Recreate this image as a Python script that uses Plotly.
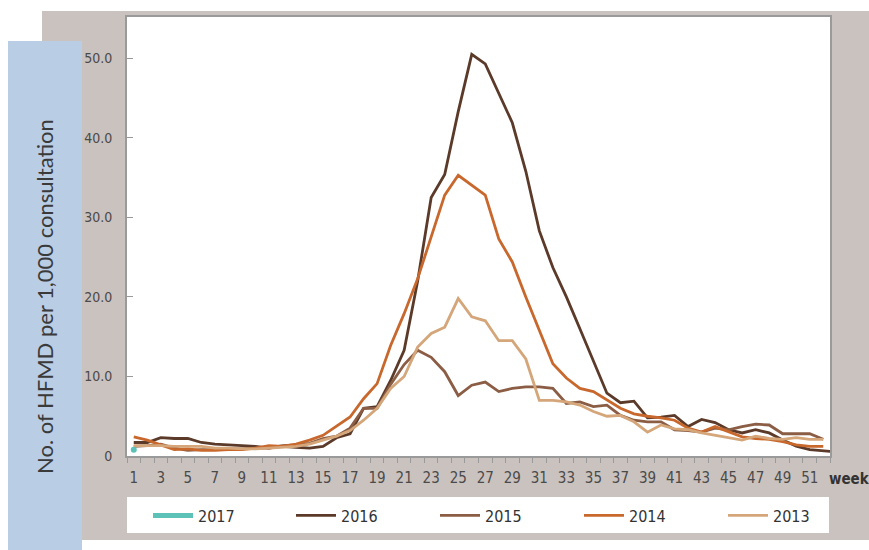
import plotly.graph_objects as go

# ---------------- data ----------------
weeks_2017 = [1]
weeks_2016 = list(range(1, 54))
weeks = list(range(1, 53))

hfmd_2017 = [0.8]
hfmd_2016 = [1.7, 1.7, 2.3, 2.2, 2.2, 1.7, 1.5, 1.4, 1.3, 1.2,
             1.0, 1.2, 1.1, 1.0, 1.2, 2.3, 2.8, 6.0, 6.2, 9.5,
             13.3, 22.0, 32.5, 35.4, 43.3, 50.5, 49.3, 45.5, 41.9, 35.8,
             28.3, 23.7, 20.0, 16.0, 12.0, 7.9, 6.7, 6.9, 4.8, 4.9,
             5.1, 3.7, 4.6, 4.2, 3.3, 2.9, 3.3, 2.9, 2.0, 1.25,
             0.8, 0.6, 0.5]
hfmd_2015 = [1.2, 1.3, 1.5, 1.0, 0.7, 0.8, 0.8, 0.9, 0.9, 1.0,
             1.0, 1.3, 1.4, 1.6, 2.2, 2.5, 3.5, 6.0, 6.0, 9.0,
             11.5, 13.3, 12.4, 10.6, 7.6, 8.9, 9.3, 8.1, 8.5, 8.7,
             8.7, 8.5, 6.6, 6.8, 6.2, 6.4, 5.1, 4.5, 4.3, 4.3,
             3.3, 3.2, 3.0, 3.5, 3.3, 3.7, 4.0, 3.9, 2.8, 2.8,
             2.8, 2.1]
hfmd_2014 = [2.4, 2.0, 1.4, 0.8, 0.9, 0.7, 0.7, 0.8, 0.8, 1.0,
             1.3, 1.2, 1.5, 2.0, 2.6, 3.8, 4.9, 7.2, 9.1, 13.9,
             17.9, 22.3, 27.5, 32.8, 35.3, 34.0, 32.8, 27.3, 24.4, 20.0,
             15.7, 11.6, 9.8, 8.5, 8.1, 7.0, 6.0, 5.3, 5.0, 4.8,
             4.5, 3.5, 3.0, 3.7, 3.0, 2.4, 2.2, 2.1, 1.8, 1.4,
             1.2, 1.2]
hfmd_2013 = [1.3, 1.3, 1.3, 1.2, 1.2, 1.2, 1.0, 1.0, 0.9, 0.9,
             1.0, 1.1, 1.2, 1.5, 2.0, 2.5, 3.2, 4.5, 6.0, 8.5,
             10.0, 13.7, 15.4, 16.2, 19.8, 17.5, 17.0, 14.5, 14.5, 12.2,
             7.0, 7.0, 6.8, 6.4, 5.6, 5.0, 5.1, 4.3, 3.0, 3.9,
             3.4, 3.3, 2.9, 2.6, 2.3, 2.0, 2.5, 2.2, 2.1, 2.3,
             2.1, 2.1]

ytick_vals = [0, 10, 20, 30, 40, 50]
ytick_text = ["0", "10.0", "20.0", "30.0", "40.0", "50.0"]
xtick_vals = list(range(1, 52, 2))
xtick_text = [str(v) for v in xtick_vals]

# ---------------- styling ----------------
W, H = 869, 550
ML, MT = 127, 17
PW, PH = 703, 439
MR, MB = W - ML - PW, H - MT - PH


def px(xr):  # window x (pixels) -> paper x
    return (xr - ML) / PW


def py(yr):  # window y (pixels) -> paper y
    return (MT + PH - yr) / PH


NUM_FONT = "Liberation Sans Narrow, DejaVu Sans Condensed, Roboto, sans-serif"
C2017 = "#5cc1b6"
C2016 = "#5b3a29"
C2015 = "#8b5d44"
C2014 = "#c8682d"
C2013 = "#d4a679"
LW = 2.8

fig = go.Figure()

fig.add_trace(go.Scatter(x=weeks_2017, y=hfmd_2017, name="2017", mode="lines",
                         line=dict(color=C2017, width=5), legend="legend"))
fig.add_trace(go.Scatter(x=weeks_2016, y=hfmd_2016, name="2016", mode="lines",
                         line=dict(color=C2016, width=LW), legend="legend2"))
fig.add_trace(go.Scatter(x=weeks, y=hfmd_2015, name="2015", mode="lines",
                         line=dict(color=C2015, width=LW), legend="legend3"))
fig.add_trace(go.Scatter(x=weeks, y=hfmd_2014, name="2014", mode="lines",
                         line=dict(color=C2014, width=LW), legend="legend4"))
fig.add_trace(go.Scatter(x=weeks, y=hfmd_2013, name="2013", mode="lines",
                         line=dict(color=C2013, width=LW), legend="legend5"))
fig.add_trace(go.Scatter(x=weeks_2017, y=hfmd_2017, mode="markers", showlegend=False,
                         marker=dict(color=C2017, size=6)))

shapes = [
    dict(type="rect", xref="paper", yref="paper", x0=px(42), x1=px(890), y0=py(540), y1=py(11),
         fillcolor="#cac2be", line=dict(width=0), layer="below"),
    dict(type="rect", xref="paper", yref="paper", x0=px(8), x1=px(82), y0=py(570), y1=py(41),
         fillcolor="#b9cde5", line=dict(width=0), layer="below"),
    dict(type="rect", xref="paper", yref="paper", x0=0, x1=1, y0=0, y1=1,
         fillcolor="white", line=dict(width=0), layer="below"),
    dict(type="rect", xref="paper", yref="paper", x0=0, x1=px(829), y0=py(533), y1=py(497),
         fillcolor="white", line=dict(width=0), layer="below"),
]

legend_font = dict(family=NUM_FONT, size=16, color="#333333")


def leg(xpix):
    return dict(orientation="h", x=px(xpix), y=py(515.5), xanchor="left", yanchor="middle",
                itemwidth=40, bgcolor="rgba(0,0,0,0)", borderwidth=0, font=legend_font)


fig.update_layout(
    width=W, height=H,
    margin=dict(l=ML, r=MR, t=MT, b=MB, pad=0, autoexpand=False),
    paper_bgcolor="white", plot_bgcolor="white",
    shapes=shapes,
    showlegend=True,
    legend=leg(148), legend2=leg(291), legend3=leg(435), legend4=leg(579), legend5=leg(723),
    annotations=[
        dict(xref="paper", yref="paper", x=px(44), y=py(297), text="No. of HFMD per 1,000 consultation",
             textangle=-90, showarrow=False, xanchor="center", yanchor="middle",
             font=dict(family="Lato, Open Sans, sans-serif", size=22, color="#3a3a3a")),
        dict(xref="paper", yref="paper", x=px(850), y=py(479), text="<b>week</b>",
             showarrow=False, xanchor="center", yanchor="middle",
             font=dict(family=NUM_FONT, size=15, color="#333333")),
    ],
)

fig.update_xaxes(
    range=[0.5, 52.5], showgrid=False, zeroline=False,
    tickmode="array", tickvals=xtick_vals, ticktext=xtick_text,
    ticks="outside", ticklen=5, tickcolor="rgba(0,0,0,0)", ticklabelstandoff=2,
    tickfont=dict(family=NUM_FONT, size=15, color="#4a4a4a"),
    showline=True, linecolor="#9a9a9a", linewidth=2, mirror=True,
    minor=dict(tick0=0.5, dtick=1, ticks="outside", ticklen=5, tickcolor="#9a9a9a", tickwidth=1.2),
)
fig.update_yaxes(
    range=[0, 55.2], showgrid=False, zeroline=False,
    tickmode="array", tickvals=ytick_vals, ticktext=ytick_text,
    ticks="inside", ticklen=6, tickcolor="#9a9a9a", tickwidth=1.2,
    ticklabelstandoff=10,
    tickfont=dict(family=NUM_FONT, size=14, color="#4a4a4a"),
    showline=True, linecolor="#9a9a9a", linewidth=2, mirror=True,
)

# Remove the page's default 8px body margin so the figure fills the window exactly.
fig.write_html("out.html", config={"displayModeBar": False}, post_script=(
    "document.documentElement.style.overflow='hidden';"
    "document.body.style.margin='0';document.body.style.overflow='hidden';"))
